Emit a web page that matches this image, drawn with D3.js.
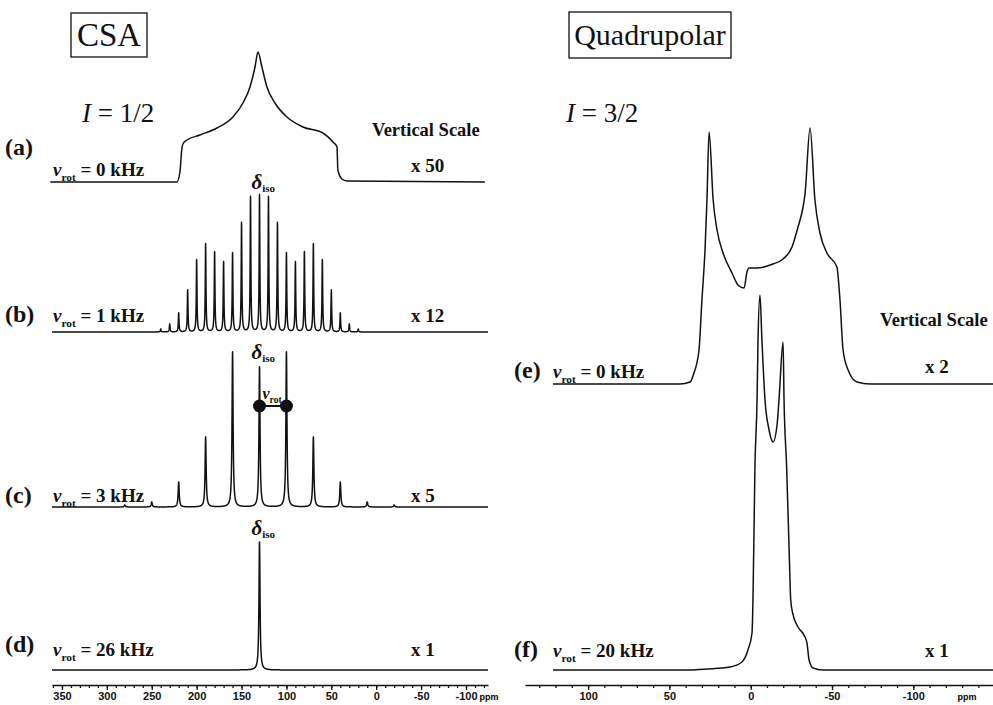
<!DOCTYPE html>
<html>
<head>
<meta charset="utf-8">
<script src="https://cdn.jsdelivr.net/npm/d3@7"></script>
<style>
body { margin: 0; background: #fff; }
svg { display: block; }
.lbl { font-family: "Liberation Serif", "Times New Roman", serif; font-weight: bold; fill: #111; }
.title { font-family: "Liberation Serif", "Times New Roman", serif; fill: #111; }
.spec { fill: none; stroke: #111; stroke-width: 1.5; stroke-linejoin: round; }
.axis path, .axis line { stroke: #111; stroke-width: 1.3; }
.axis text { font-family: "Liberation Sans", Arial, sans-serif; font-weight: bold; font-size: 11px; fill: #111; }
</style>
</head>
<body>
<svg id="chart" width="993" height="705"></svg>
<script>
// ---- data ----
const csaLabels = ["(a)", "(b)", "(c)", "(d)"];
const csaRates = ["0", "1", "3", "26"];
const csaScales = ["x 50", "x 12", "x 5", "x 1"];
const quadLabels = ["(e)", "(f)"];
const quadRates = ["0", "20"];
const quadScales = ["x 2", "x 1"];

// static CSA powder pattern [ppm, intensity]
const csaStatic = [[363, 0], [222, 0], [218.6, 10], [216.4, 34], [215.3, 38], [210.8, 42], [196.3, 47],
  [177.4, 54], [159.6, 65], [148.4, 79], [140.6, 95], [135, 115], [131.7, 130], [127.3, 115],
  [121.7, 95], [112.8, 79], [99.4, 65], [81.6, 55], [59.4, 49], [48.2, 40], [43.7, 35],
  [42.7, 12], [38.2, 3], [32.6, 1], [-121, 0]];

// spinning sidebands [ppm, height]
const mas1Peaks = [[240, 3], [230, 8], [220, 19], [210, 42], [200, 72], [190, 88], [180, 80], [170, 70],
  [160, 79], [150, 109], [140, 135], [130, 137], [120, 135], [110, 109], [100, 79], [90, 70],
  [80, 80], [70, 88], [60, 72], [50, 42], [40, 19], [30, 8], [20, 3]];
const mas3Peaks = [[280, 2], [250, 5], [220, 25], [190, 70], [160, 155], [130, 140], [100, 155],
  [70, 70], [40, 25], [10, 5], [-20, 2]];
const mas26Peaks = [[130, 128]];

// quadrupolar I = 3/2 [ppm, intensity]
const quadStatic = [[121.6, 0], [43.5, 0], [37.3, 2], [34.9, 11], [31.8, 34], [30, 84], [28.1, 134],
  [26.9, 184], [25.6, 252], [23.1, 184], [20.7, 154], [17, 131], [11.5, 111], [7.8, 99], [4.1, 96],
  [2.3, 112], [1, 116], [-3.9, 116], [-13.7, 120], [-19.9, 125], [-25.4, 137], [-29.1, 157],
  [-32.2, 177], [-33.4, 190], [-36.5, 256], [-39.5, 184], [-42.6, 151], [-46.9, 131], [-53, 117],
  [-54.9, 84], [-56.8, 34], [-59.9, 14], [-65.4, 2], [-73.4, 0], [-149, 0]];
const quadMas = [[121.6, 0], [40, 0], [26.9, 1], [12.7, 3], [5.4, 8], [1.7, 20], [-0.8, 37], [-1.4, 70],
  [-2.6, 203], [-3.9, 270], [-4.5, 330], [-5.7, 375], [-6.9, 330], [-8.8, 270], [-11.3, 240],
  [-13.7, 228], [-16.2, 245], [-17.4, 270], [-19.9, 328], [-20.5, 270], [-22.1, 203], [-23.8, 110],
  [-24.6, 70], [-25.8, 57], [-29.1, 43], [-33.4, 33], [-34.6, 27], [-35.9, 10], [-38.3, 2],
  [-44.5, 0], [-149, 0]];

const csaTicks = [350, 300, 250, 200, 150, 100, 50, 0, -50, -100];
const quadTicks = [100, 50, 0, -50, -100];
const deltaIso = 130;
const rotPair = [130, 100];

// ---- layout ----
const svg = d3.select("#chart");
const xCSA = d3.scaleLinear().domain([361.1, -124.5]).range([52, 488]);
const xQuad = d3.scaleLinear().domain([138.8, -149]).range([525, 993]);
const csaBase = [182, 332, 507, 670];
const quadBase = [384, 670];
const axisY = 685;

const yAt = base => d3.scaleLinear().domain([0, 100]).range([base, base - 100]);

// lorentzian lines from a peak list
function lineShape(peaks, hw, x) {
  const [a, b] = x.domain();
  const ppm = d3.range(a, b, -0.05).concat(peaks.map(d => d[0])).sort((p, q) => q - p);
  return ppm.map(p => [p, d3.sum(peaks, k => k[1] * hw * hw / ((p - k[0]) ** 2 + hw * hw))]);
}

function drawSpec(data, x, base, curve) {
  const y = yAt(base);
  svg.append("path")
    .attr("class", "spec")
    .attr("d", d3.line().x(d => x(d[0])).y(d => y(d[1])).curve(curve)(data));
}

drawSpec(csaStatic, xCSA, csaBase[0], d3.curveMonotoneX);
drawSpec(lineShape(mas1Peaks, 0.45, xCSA), xCSA, csaBase[1], d3.curveLinear);
drawSpec(lineShape(mas3Peaks, 0.7, xCSA), xCSA, csaBase[2], d3.curveLinear);
drawSpec(lineShape(mas26Peaks, 0.7, xCSA), xCSA, csaBase[3], d3.curveLinear);
drawSpec(quadStatic, xQuad, quadBase[0], d3.curveMonotoneX);
drawSpec(quadMas, xQuad, quadBase[1], d3.curveMonotoneX);

// axes
function drawAxis(x, majors, ppmX) {
  const [a, b] = x.domain();
  const minors = d3.range(Math.floor(a / 10) * 10, b, -10);
  svg.append("g").attr("class", "axis").attr("transform", `translate(0,${axisY})`)
    .call(d3.axisBottom(x).tickValues(minors).tickSize(3).tickSizeOuter(0).tickFormat(""));
  const g = svg.append("g").attr("class", "axis").attr("transform", `translate(0,${axisY})`)
    .call(d3.axisBottom(x).tickValues(majors).tickSize(5).tickSizeOuter(0).tickPadding(2)
      .tickFormat(d => String(d)));
  g.select(".domain").remove();
  g.selectAll("text").attr("font-family", null).attr("font-size", null);
  svg.append("text").attr("class", "axis")
    .attr("x", ppmX).attr("y", axisY + 15)
    .attr("text-anchor", "middle")
    .style("font-family", '"Liberation Sans", Arial, sans-serif')
    .style("font-weight", "bold").style("font-size", "9px")
    .text("ppm");
}
drawAxis(xCSA, csaTicks, 489);
drawAxis(xQuad, quadTicks, 967);

// text helpers
function rotText(x, y, size, rest) {
  const t = svg.append("text").attr("class", "lbl").attr("x", x).attr("y", y).attr("font-size", size);
  t.append("tspan").attr("font-style", "italic").text("ν");
  t.append("tspan").attr("font-size", size * 0.6).attr("dy", size * 0.25).text("rot");
  if (rest) t.append("tspan").attr("dy", -size * 0.25).text(rest);
  return t;
}
function deltaText(x, y) {
  const t = svg.append("text").attr("class", "lbl").attr("x", x).attr("y", y).attr("font-size", 21);
  t.append("tspan").attr("font-style", "italic").text("δ");
  t.append("tspan").attr("font-size", 11).attr("dy", 3).text("iso");
}
function plain(x, y, size, str, cls) {
  return svg.append("text").attr("class", cls || "lbl").attr("x", x).attr("y", y)
    .attr("font-size", size).text(str);
}

// left column labels
const csaLabelY = [155, 322, 503, 652];
const csaRotY = [176, 322, 502, 656];
csaLabels.forEach((l, i) => {
  plain(5, csaLabelY[i], 24, l);
  rotText(53, csaRotY[i], 19, ` = ${csaRates[i]} kHz`);
  plain(411, csaRotY[i] - (i === 0 ? 4 : 0), 19, csaScales[i]);
});
plain(372, 136, 18.5, "Vertical Scale");

// right column labels
const quadY = [378, 657];
quadLabels.forEach((l, i) => {
  plain(514, quadY[i], 24, l);
  rotText(553, quadY[i], 19, ` = ${quadRates[i]} kHz`);
  plain(925, quadY[i] - (i === 0 ? 5 : 0), 19, quadScales[i]);
});
plain(880, 326, 18.5, "Vertical Scale");

// delta iso markers
const xd = xCSA(deltaIso) - 8;
deltaText(xd, 189);
deltaText(xd, 359);
deltaText(xd, 535);

// spinning-rate dumbbell on (c)
const dumbY = 406;
svg.append("line")
  .attr("x1", xCSA(rotPair[0])).attr("x2", xCSA(rotPair[1]))
  .attr("y1", dumbY).attr("y2", dumbY)
  .attr("stroke", "#111").attr("stroke-width", 2);
svg.selectAll("circle.dot").data(rotPair).join("circle")
  .attr("class", "dot")
  .attr("cx", d => xCSA(d)).attr("cy", dumbY).attr("r", 6.5)
  .attr("fill", "#111");
rotText(xCSA(rotPair[0]) + 3, 399, 16, null);

// titles
function boxTitle(x, y, w, h, str, size) {
  svg.append("rect").attr("x", x).attr("y", y).attr("width", w).attr("height", h)
    .attr("fill", "none").attr("stroke", "#111").attr("stroke-width", 1.3);
  svg.append("text").attr("class", "title").attr("x", x + w / 2).attr("y", y + h / 2 + size * 0.34)
    .attr("text-anchor", "middle").attr("font-size", size).text(str);
}
boxTitle(71, 13, 76, 44, "CSA", 33);
boxTitle(569, 12, 162, 46, "Quadrupolar", 30);

function spinText(x, y, num) {
  const t = svg.append("text").attr("class", "title").attr("x", x).attr("y", y).attr("font-size", 27);
  t.append("tspan").attr("font-style", "italic").text("I");
  t.append("tspan").text(" = " + num);
}
spinText(82, 122, "1/2");
spinText(566, 122, "3/2");
</script>
</body>
</html>
